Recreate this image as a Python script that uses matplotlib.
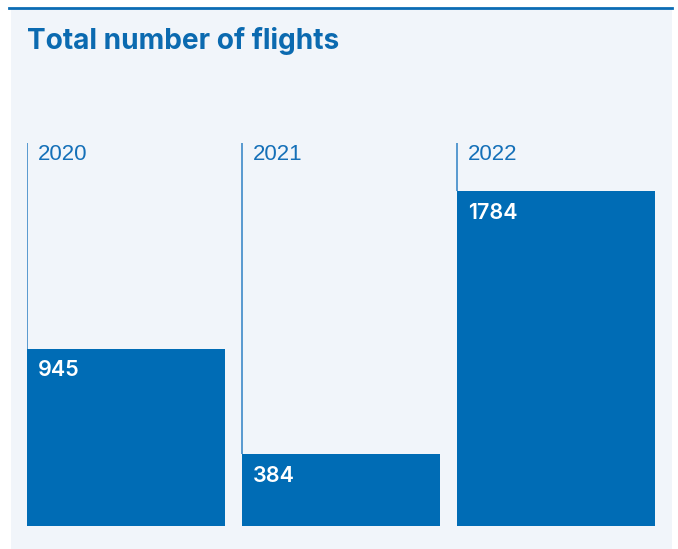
import matplotlib.pyplot as plt
from matplotlib.patches import Rectangle
from matplotlib.lines import Line2D

years = ["2020", "2021", "2022"]
flights = [945, 384, 1784]

W, H = 678, 549
bar_color = "#006cb5"
panel_color = "#f1f5fa"
text_blue = "#1570b8"

fig = plt.figure(figsize=(W / 100, H / 100), dpi=100)
fig.patch.set_facecolor("white")

# panel background and top rule
fig.patches.append(Rectangle((11 / W, 0), 661 / W, 541 / H, transform=fig.transFigure,
                             facecolor=panel_color, edgecolor="none", zorder=-10))
fig.lines.append(Line2D([9 / W, 672 / W], [1 - 8 / H, 1 - 8 / H], transform=fig.transFigure,
                        color="#0b6cb4", lw=2.0, zorder=-5))

fig.text(27 / W, 1 - 49 / H, "Total number of flights", fontsize=20.2, fontweight="bold",
         color="#0b6ab0", family=["Inter", "DejaVu Sans"], va="baseline", ha="left")

# axes: bottom at y=526 px, top at y=143 px
ax = fig.add_axes([27 / W, 1 - 526 / H, 628 / W, 383 / H])
ax.set_facecolor("none")
top = 1784 * 383 / 335
ax.set_ylim(0, top)
width = 198 / 215
ax.set_xlim(0, 2 + width)
x = list(range(len(years)))
ax.bar(x, flights, width=width, align="edge", color=bar_color, zorder=2)
ax.vlines(x, flights, top, color="#3d8ac8", lw=1.2, zorder=1)

for xi, yr, v in zip(x, years, flights):
    ax.annotate(yr, (xi, top), xytext=(7.5, -1.0), textcoords="offset points",
                ha="left", va="top", fontsize=16, color=text_blue,
                family=["Liberation Sans", "DejaVu Sans"])
    ax.annotate(str(v), (xi, v), xytext=(7.8, -8.5), textcoords="offset points",
                ha="left", va="top", fontsize=15.5, color="white", fontweight="semibold",
                family=["Inter", "DejaVu Sans"])

ax.axis("off")
fig.savefig("out.png", dpi=100, facecolor=fig.get_facecolor())
